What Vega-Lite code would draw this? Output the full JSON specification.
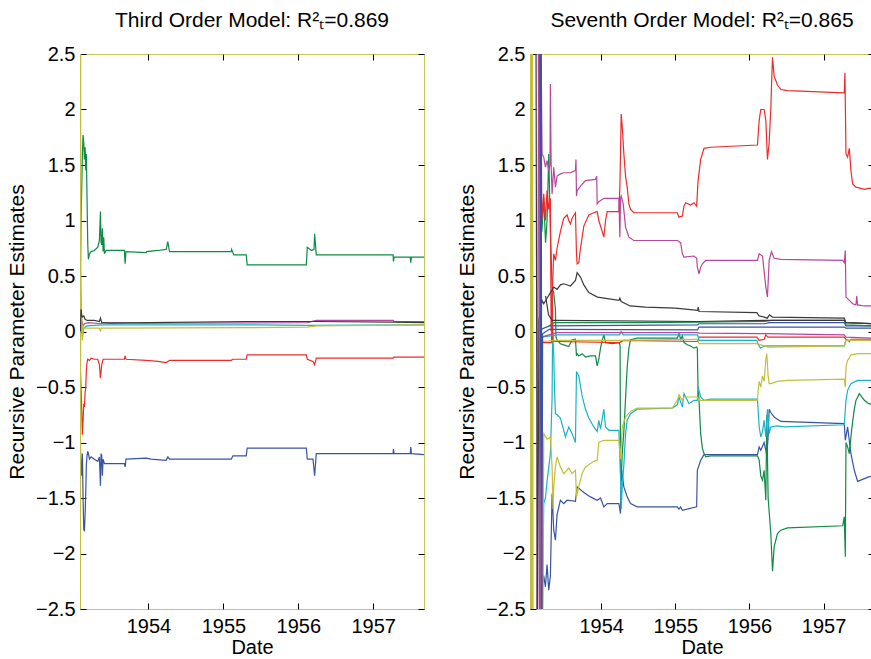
{
  "$schema": "https://vega.github.io/schema/vega-lite/v6.json",
  "padding": {"left": 6, "top": 9, "right": 0, "bottom": 4},
  "background": "white",
  "config": {
    "view": {"stroke": "#c9c65a", "strokeWidth": 1},
    "font": "Liberation Sans",
    "concat": {"spacing": 31},
    "axis": {"labelFont": "Liberation Sans", "labelFontSize": 20, "titleFont": "Liberation Sans", "titleFontSize": 20, "titleFontWeight": "normal", "labelColor": "#000", "titleColor": "#000", "tickColor": "#000", "tickWidth": 1, "domain": false, "grid": false, "tickSize": 6, "offset": -6, "labelPadding": 5, "titlePadding": 1},
    "axisX": {"labelPadding": 7},
    "title": {"font": "Liberation Sans", "fontSize": 21, "fontWeight": "normal", "color": "#000", "offset": 13}
  },
  "datasets": {
    "third": [
      {"s":"a1","t":1953.091,"v":-1.05},{"s":"a1","t":1953.1,"v":-1.2},{"s":"a1","t":1953.109,"v":-1.3},{"s":"a1","t":1953.118,"v":-1.1},{"s":"a1","t":1953.127,"v":-1.5},{"s":"a1","t":1953.136,"v":-1.78},{"s":"a1","t":1953.145,"v":-1.8},{"s":"a1","t":1953.154,"v":-1.65},{"s":"a1","t":1953.163,"v":-1.45},{"s":"a1","t":1953.171,"v":-1.2},{"s":"a1","t":1953.18,"v":-1.12},{"s":"a1","t":1953.189,"v":-1.08},{"s":"a1","t":1953.198,"v":-1.1},{"s":"a1","t":1953.212,"v":-1.15},{"s":"a1","t":1953.234,"v":-1.13},{"s":"a1","t":1953.278,"v":-1.15},{"s":"a1","t":1953.323,"v":-1.17},{"s":"a1","t":1953.345,"v":-1.13},{"s":"a1","t":1953.359,"v":-1.39},{"s":"a1","t":1953.367,"v":-1.1},{"s":"a1","t":1953.376,"v":-1.12},{"s":"a1","t":1953.385,"v":-1.3},{"s":"a1","t":1953.394,"v":-1.15},{"s":"a1","t":1953.412,"v":-1.19},{"s":"a1","t":1953.679,"v":-1.19},{"s":"a1","t":1953.688,"v":-1.22},{"s":"a1","t":1953.7,"v":-1.15},{"s":"a1","t":1953.969,"v":-1.14},{"s":"a1","t":1954.036,"v":-1.15},{"s":"a1","t":1954.236,"v":-1.16},{"s":"a1","t":1954.258,"v":-1.13},{"s":"a1","t":1954.281,"v":-1.15},{"s":"a1","t":1955.105,"v":-1.15},{"s":"a1","t":1955.127,"v":-1.12},{"s":"a1","t":1955.305,"v":-1.12},{"s":"a1","t":1955.318,"v":-1.05},{"s":"a1","t":1956.107,"v":-1.05},{"s":"a1","t":1956.12,"v":-1.15},{"s":"a1","t":1956.196,"v":-1.15},{"s":"a1","t":1956.218,"v":-1.3},{"s":"a1","t":1956.24,"v":-1.1},{"s":"a1","t":1957.265,"v":-1.1},{"s":"a1","t":1957.27,"v":-1.06},{"s":"a1","t":1957.278,"v":-1.1},{"s":"a1","t":1957.495,"v":-1.1},{"s":"a1","t":1957.501,"v":-1.04},{"s":"a1","t":1957.51,"v":-1.1},{"s":"a1","t":1957.678,"v":-1.11},
      {"s":"a2","t":1953.087,"v":0.3},{"s":"a2","t":1953.1,"v":1.0},{"s":"a2","t":1953.118,"v":1.6},{"s":"a2","t":1953.127,"v":1.77},{"s":"a2","t":1953.136,"v":1.7},{"s":"a2","t":1953.145,"v":1.55},{"s":"a2","t":1953.154,"v":1.66},{"s":"a2","t":1953.163,"v":1.45},{"s":"a2","t":1953.171,"v":1.6},{"s":"a2","t":1953.18,"v":1.2},{"s":"a2","t":1953.189,"v":0.8},{"s":"a2","t":1953.198,"v":0.65},{"s":"a2","t":1953.212,"v":0.7},{"s":"a2","t":1953.234,"v":0.72},{"s":"a2","t":1953.278,"v":0.73},{"s":"a2","t":1953.323,"v":0.76},{"s":"a2","t":1953.345,"v":0.82},{"s":"a2","t":1953.359,"v":1.08},{"s":"a2","t":1953.367,"v":0.8},{"s":"a2","t":1953.376,"v":0.78},{"s":"a2","t":1953.385,"v":0.93},{"s":"a2","t":1953.394,"v":0.72},{"s":"a2","t":1953.403,"v":0.85},{"s":"a2","t":1953.412,"v":0.7},{"s":"a2","t":1953.434,"v":0.73},{"s":"a2","t":1953.679,"v":0.73},{"s":"a2","t":1953.688,"v":0.61},{"s":"a2","t":1953.7,"v":0.72},{"s":"a2","t":1953.969,"v":0.71},{"s":"a2","t":1953.975,"v":0.72},{"s":"a2","t":1954.125,"v":0.73},{"s":"a2","t":1954.236,"v":0.74},{"s":"a2","t":1954.258,"v":0.81},{"s":"a2","t":1954.281,"v":0.72},{"s":"a2","t":1955.105,"v":0.72},{"s":"a2","t":1955.11,"v":0.74},{"s":"a2","t":1955.14,"v":0.69},{"s":"a2","t":1955.305,"v":0.69},{"s":"a2","t":1955.318,"v":0.6},{"s":"a2","t":1956.107,"v":0.6},{"s":"a2","t":1956.12,"v":0.76},{"s":"a2","t":1956.174,"v":0.73},{"s":"a2","t":1956.21,"v":0.74},{"s":"a2","t":1956.218,"v":0.88},{"s":"a2","t":1956.24,"v":0.69},{"s":"a2","t":1957.265,"v":0.69},{"s":"a2","t":1957.27,"v":0.63},{"s":"a2","t":1957.278,"v":0.67},{"s":"a2","t":1957.495,"v":0.67},{"s":"a2","t":1957.501,"v":0.62},{"s":"a2","t":1957.51,"v":0.67},{"s":"a2","t":1957.678,"v":0.67},
      {"s":"a3","t":1953.091,"v":-0.35},{"s":"a3","t":1953.1,"v":-0.5},{"s":"a3","t":1953.109,"v":-0.7},{"s":"a3","t":1953.118,"v":-0.93},{"s":"a3","t":1953.127,"v":-0.8},{"s":"a3","t":1953.136,"v":-0.65},{"s":"a3","t":1953.145,"v":-0.68},{"s":"a3","t":1953.154,"v":-0.55},{"s":"a3","t":1953.163,"v":-0.5},{"s":"a3","t":1953.171,"v":-0.35},{"s":"a3","t":1953.18,"v":-0.28},{"s":"a3","t":1953.189,"v":-0.25},{"s":"a3","t":1953.212,"v":-0.26},{"s":"a3","t":1953.234,"v":-0.24},{"s":"a3","t":1953.278,"v":-0.25},{"s":"a3","t":1953.323,"v":-0.25},{"s":"a3","t":1953.345,"v":-0.3},{"s":"a3","t":1953.359,"v":-0.42},{"s":"a3","t":1953.367,"v":-0.36},{"s":"a3","t":1953.376,"v":-0.3},{"s":"a3","t":1953.394,"v":-0.25},{"s":"a3","t":1953.434,"v":-0.25},{"s":"a3","t":1953.679,"v":-0.25},{"s":"a3","t":1953.688,"v":-0.22},{"s":"a3","t":1953.7,"v":-0.25},{"s":"a3","t":1953.969,"v":-0.26},{"s":"a3","t":1954.125,"v":-0.27},{"s":"a3","t":1954.236,"v":-0.28},{"s":"a3","t":1954.258,"v":-0.27},{"s":"a3","t":1954.281,"v":-0.26},{"s":"a3","t":1955.105,"v":-0.26},{"s":"a3","t":1955.127,"v":-0.25},{"s":"a3","t":1955.305,"v":-0.25},{"s":"a3","t":1955.318,"v":-0.21},{"s":"a3","t":1956.107,"v":-0.21},{"s":"a3","t":1956.12,"v":-0.25},{"s":"a3","t":1956.196,"v":-0.27},{"s":"a3","t":1956.218,"v":-0.3},{"s":"a3","t":1956.24,"v":-0.24},{"s":"a3","t":1957.265,"v":-0.24},{"s":"a3","t":1957.278,"v":-0.23},{"s":"a3","t":1957.678,"v":-0.23},
      {"s":"a4","t":1953.091,"v":0.6},{"s":"a4","t":1953.1,"v":0.3},{"s":"a4","t":1953.109,"v":0.0},{"s":"a4","t":1953.118,"v":-0.05},{"s":"a4","t":1953.136,"v":0.03},{"s":"a4","t":1953.18,"v":0.05},{"s":"a4","t":1953.4,"v":0.06},{"s":"a4","t":1955.318,"v":0.06},{"s":"a4","t":1956.12,"v":0.055},{"s":"a4","t":1957.678,"v":0.06},
      {"s":"a5","t":1953.091,"v":0.2},{"s":"a5","t":1953.109,"v":0.1},{"s":"a5","t":1953.127,"v":0.05},{"s":"a5","t":1953.145,"v":0.07},{"s":"a5","t":1953.198,"v":0.08},{"s":"a5","t":1953.359,"v":0.07},{"s":"a5","t":1953.4,"v":0.08},{"s":"a5","t":1954.0,"v":0.075},{"s":"a5","t":1956.12,"v":0.08},{"s":"a5","t":1956.24,"v":0.1},{"s":"a5","t":1957.265,"v":0.1},{"s":"a5","t":1957.278,"v":0.09},{"s":"a5","t":1957.678,"v":0.09},
      {"s":"a6","t":1953.087,"v":2.8},{"s":"a6","t":1953.089,"v":-2.8},{"s":"a6","t":1953.091,"v":2.8},{"s":"a6","t":1953.093,"v":-2.8},{"s":"a6","t":1953.095,"v":2.8},{"s":"a6","t":1953.097,"v":0.28},{"s":"a6","t":1953.1,"v":0.25},{"s":"a6","t":1953.109,"v":0.1},{"s":"a6","t":1953.118,"v":-0.08},{"s":"a6","t":1953.127,"v":0.05},{"s":"a6","t":1953.154,"v":0.03},{"s":"a6","t":1953.345,"v":0.03},{"s":"a6","t":1953.359,"v":0.0},{"s":"a6","t":1953.367,"v":0.03},{"s":"a6","t":1953.4,"v":0.03},{"s":"a6","t":1955.318,"v":0.035},{"s":"a6","t":1956.12,"v":0.04},{"s":"a6","t":1956.24,"v":0.05},{"s":"a6","t":1957.678,"v":0.06},
      {"s":"a7","t":1953.091,"v":0.0},{"s":"a7","t":1953.1,"v":0.2},{"s":"a7","t":1953.109,"v":0.15},{"s":"a7","t":1953.118,"v":0.13},{"s":"a7","t":1953.136,"v":0.14},{"s":"a7","t":1953.154,"v":0.11},{"s":"a7","t":1953.18,"v":0.1},{"s":"a7","t":1953.278,"v":0.1},{"s":"a7","t":1953.345,"v":0.09},{"s":"a7","t":1953.359,"v":0.12},{"s":"a7","t":1953.376,"v":0.08},{"s":"a7","t":1953.5,"v":0.075},{"s":"a7","t":1954.0,"v":0.08},{"s":"a7","t":1955.318,"v":0.09},{"s":"a7","t":1956.12,"v":0.09},{"s":"a7","t":1956.24,"v":0.09},{"s":"a7","t":1957.265,"v":0.085},{"s":"a7","t":1957.678,"v":0.08}
    ],
    "seventh": [
      {"s":"p1","t":1953.17,"v":3},{"s":"p1","t":1953.19,"v":-3},{"s":"p1","t":1953.2,"v":-2.3},{"s":"p1","t":1953.225,"v":-2.2},{"s":"p1","t":1953.248,"v":-2.3},{"s":"p1","t":1953.27,"v":-2.1},{"s":"p1","t":1953.293,"v":-2.33},{"s":"p1","t":1953.315,"v":-2.2},{"s":"p1","t":1953.338,"v":-1.46},{"s":"p1","t":1953.36,"v":-1.79},{"s":"p1","t":1953.383,"v":-1.88},{"s":"p1","t":1953.405,"v":-1.65},{"s":"p1","t":1953.45,"v":-1.52},{"s":"p1","t":1953.495,"v":-1.55},{"s":"p1","t":1953.541,"v":-1.52},{"s":"p1","t":1953.653,"v":-1.53},{"s":"p1","t":1953.676,"v":-1.4},{"s":"p1","t":1953.766,"v":-1.45},{"s":"p1","t":1953.856,"v":-1.49},{"s":"p1","t":1953.946,"v":-1.52},{"s":"p1","t":1953.991,"v":-1.5},{"s":"p1","t":1954.036,"v":-1.58},{"s":"p1","t":1954.081,"v":-1.55},{"s":"p1","t":1954.239,"v":-1.55},{"s":"p1","t":1954.261,"v":-1.64},{"s":"p1","t":1954.27,"v":-1.22},{"s":"p1","t":1954.306,"v":-1.4},{"s":"p1","t":1954.351,"v":-1.49},{"s":"p1","t":1954.396,"v":-1.55},{"s":"p1","t":1954.486,"v":-1.58},{"s":"p1","t":1955.027,"v":-1.58},{"s":"p1","t":1955.05,"v":-1.6},{"s":"p1","t":1955.072,"v":-1.58},{"s":"p1","t":1955.095,"v":-1.61},{"s":"p1","t":1955.288,"v":-1.58},{"s":"p1","t":1955.297,"v":-1.25},{"s":"p1","t":1955.342,"v":-1.16},{"s":"p1","t":1955.387,"v":-1.11},{"s":"p1","t":1956.108,"v":-1.11},{"s":"p1","t":1956.131,"v":-1.04},{"s":"p1","t":1956.153,"v":-1.07},{"s":"p1","t":1956.198,"v":-1.0},{"s":"p1","t":1956.221,"v":-1.07},{"s":"p1","t":1956.234,"v":-1.12},{"s":"p1","t":1956.252,"v":-0.95},{"s":"p1","t":1956.266,"v":-0.7},{"s":"p1","t":1956.288,"v":-0.73},{"s":"p1","t":1956.333,"v":-0.77},{"s":"p1","t":1956.423,"v":-0.81},{"s":"p1","t":1957.279,"v":-0.83},{"s":"p1","t":1957.293,"v":-0.98},{"s":"p1","t":1957.324,"v":-0.86},{"s":"p1","t":1957.369,"v":-1.1},{"s":"p1","t":1957.414,"v":-1.25},{"s":"p1","t":1957.459,"v":-1.35},{"s":"p1","t":1957.608,"v":-1.31},{"s":"p1","t":1957.68,"v":-1.3},
      {"s":"p2","t":1953.16,"v":3},{"s":"p2","t":1953.18,"v":1.3},{"s":"p2","t":1953.2,"v":0.9},{"s":"p2","t":1953.225,"v":1.2},{"s":"p2","t":1953.25,"v":0.8},{"s":"p2","t":1953.27,"v":1.0},{"s":"p2","t":1953.293,"v":1.6},{"s":"p2","t":1953.315,"v":0.9},{"s":"p2","t":1953.338,"v":0.4},{"s":"p2","t":1953.36,"v":0.35},{"s":"p2","t":1953.383,"v":0.2},{"s":"p2","t":1953.39,"v":-0.05},{"s":"p2","t":1953.405,"v":-0.075},{"s":"p2","t":1953.45,"v":-0.11},{"s":"p2","t":1953.495,"v":-0.12},{"s":"p2","t":1953.563,"v":-0.135},{"s":"p2","t":1953.608,"v":-0.075},{"s":"p2","t":1953.653,"v":-0.07},{"s":"p2","t":1953.667,"v":-0.22},{"s":"p2","t":1953.676,"v":-0.2},{"s":"p2","t":1953.698,"v":-0.22},{"s":"p2","t":1953.743,"v":-0.2},{"s":"p2","t":1953.788,"v":-0.23},{"s":"p2","t":1953.856,"v":-0.22},{"s":"p2","t":1953.923,"v":-0.22},{"s":"p2","t":1953.946,"v":-0.31},{"s":"p2","t":1953.968,"v":-0.25},{"s":"p2","t":1953.991,"v":-0.15},{"s":"p2","t":1954.014,"v":-0.08},{"s":"p2","t":1954.036,"v":-0.03},{"s":"p2","t":1954.059,"v":-0.1},{"s":"p2","t":1954.149,"v":-0.11},{"s":"p2","t":1954.239,"v":-0.1},{"s":"p2","t":1954.255,"v":-0.12},{"s":"p2","t":1954.261,"v":-1.28},{"s":"p2","t":1954.27,"v":-1.35},{"s":"p2","t":1954.284,"v":-1.1},{"s":"p2","t":1954.306,"v":-0.9},{"s":"p2","t":1954.329,"v":-0.6},{"s":"p2","t":1954.351,"v":-0.32},{"s":"p2","t":1954.374,"v":-0.15},{"s":"p2","t":1954.396,"v":-0.075},{"s":"p2","t":1954.486,"v":-0.06},{"s":"p2","t":1955.027,"v":-0.06},{"s":"p2","t":1955.05,"v":-0.02},{"s":"p2","t":1955.072,"v":-0.07},{"s":"p2","t":1955.095,"v":-0.04},{"s":"p2","t":1955.117,"v":-0.1},{"s":"p2","t":1955.162,"v":-0.12},{"s":"p2","t":1955.207,"v":-0.13},{"s":"p2","t":1955.252,"v":-0.15},{"s":"p2","t":1955.288,"v":-0.14},{"s":"p2","t":1955.297,"v":-0.15},{"s":"p2","t":1955.306,"v":-0.5},{"s":"p2","t":1955.32,"v":-0.62},{"s":"p2","t":1955.342,"v":-0.92},{"s":"p2","t":1955.365,"v":-1.05},{"s":"p2","t":1955.387,"v":-1.1},{"s":"p2","t":1955.41,"v":-1.13},{"s":"p2","t":1955.477,"v":-1.12},{"s":"p2","t":1956.108,"v":-1.12},{"s":"p2","t":1956.131,"v":-1.16},{"s":"p2","t":1956.153,"v":-1.3},{"s":"p2","t":1956.176,"v":-1.34},{"s":"p2","t":1956.198,"v":-1.25},{"s":"p2","t":1956.221,"v":-1.52},{"s":"p2","t":1956.234,"v":-0.75},{"s":"p2","t":1956.252,"v":-1.5},{"s":"p2","t":1956.288,"v":-1.82},{"s":"p2","t":1956.311,"v":-2.16},{"s":"p2","t":1956.333,"v":-1.94},{"s":"p2","t":1956.378,"v":-1.82},{"s":"p2","t":1956.423,"v":-1.79},{"s":"p2","t":1956.514,"v":-1.77},{"s":"p2","t":1957.257,"v":-1.75},{"s":"p2","t":1957.279,"v":-1.67},{"s":"p2","t":1957.293,"v":-2.03},{"s":"p2","t":1957.302,"v":-1.0},{"s":"p2","t":1957.324,"v":-1.04},{"s":"p2","t":1957.347,"v":-1.1},{"s":"p2","t":1957.369,"v":-0.95},{"s":"p2","t":1957.383,"v":-0.86},{"s":"p2","t":1957.414,"v":-0.7},{"s":"p2","t":1957.437,"v":-0.62},{"s":"p2","t":1957.482,"v":-0.56},{"s":"p2","t":1957.55,"v":-0.62},{"s":"p2","t":1957.608,"v":-0.65},{"s":"p2","t":1957.68,"v":-0.66},
      {"s":"p3","t":1953.18,"v":3},{"s":"p3","t":1953.2,"v":1.0},{"s":"p3","t":1953.225,"v":1.24},{"s":"p3","t":1953.248,"v":1.0},{"s":"p3","t":1953.27,"v":1.27},{"s":"p3","t":1953.293,"v":1.1},{"s":"p3","t":1953.315,"v":1.2},{"s":"p3","t":1953.325,"v":0.0},{"s":"p3","t":1953.338,"v":0.3},{"s":"p3","t":1953.36,"v":0.7},{"s":"p3","t":1953.383,"v":0.64},{"s":"p3","t":1953.405,"v":0.75},{"s":"p3","t":1953.45,"v":0.9},{"s":"p3","t":1953.495,"v":1.02},{"s":"p3","t":1953.541,"v":1.05},{"s":"p3","t":1953.563,"v":1.0},{"s":"p3","t":1953.586,"v":0.97},{"s":"p3","t":1953.608,"v":1.02},{"s":"p3","t":1953.653,"v":1.07},{"s":"p3","t":1953.667,"v":0.7},{"s":"p3","t":1953.676,"v":0.61},{"s":"p3","t":1953.698,"v":0.62},{"s":"p3","t":1953.721,"v":0.75},{"s":"p3","t":1953.766,"v":0.95},{"s":"p3","t":1953.833,"v":1.05},{"s":"p3","t":1953.901,"v":1.07},{"s":"p3","t":1953.946,"v":1.08},{"s":"p3","t":1953.968,"v":1.0},{"s":"p3","t":1954.014,"v":0.9},{"s":"p3","t":1954.036,"v":0.85},{"s":"p3","t":1954.059,"v":1.0},{"s":"p3","t":1954.081,"v":1.08},{"s":"p3","t":1954.239,"v":1.08},{"s":"p3","t":1954.252,"v":1.3},{"s":"p3","t":1954.261,"v":1.6},{"s":"p3","t":1954.27,"v":1.96},{"s":"p3","t":1954.284,"v":1.85},{"s":"p3","t":1954.306,"v":1.6},{"s":"p3","t":1954.329,"v":1.4},{"s":"p3","t":1954.351,"v":1.3},{"s":"p3","t":1954.374,"v":1.15},{"s":"p3","t":1954.396,"v":1.1},{"s":"p3","t":1954.441,"v":1.07},{"s":"p3","t":1955.027,"v":1.07},{"s":"p3","t":1955.05,"v":1.03},{"s":"p3","t":1955.095,"v":1.04},{"s":"p3","t":1955.117,"v":1.13},{"s":"p3","t":1955.14,"v":1.16},{"s":"p3","t":1955.207,"v":1.14},{"s":"p3","t":1955.252,"v":1.16},{"s":"p3","t":1955.288,"v":1.13},{"s":"p3","t":1955.306,"v":1.35},{"s":"p3","t":1955.342,"v":1.55},{"s":"p3","t":1955.387,"v":1.65},{"s":"p3","t":1955.477,"v":1.66},{"s":"p3","t":1956.108,"v":1.68},{"s":"p3","t":1956.131,"v":1.9},{"s":"p3","t":1956.153,"v":2.0},{"s":"p3","t":1956.198,"v":2.0},{"s":"p3","t":1956.221,"v":1.9},{"s":"p3","t":1956.243,"v":1.55},{"s":"p3","t":1956.266,"v":1.7},{"s":"p3","t":1956.288,"v":2.0},{"s":"p3","t":1956.297,"v":2.2},{"s":"p3","t":1956.311,"v":2.47},{"s":"p3","t":1956.333,"v":2.3},{"s":"p3","t":1956.378,"v":2.22},{"s":"p3","t":1956.423,"v":2.18},{"s":"p3","t":1956.514,"v":2.17},{"s":"p3","t":1957.279,"v":2.15},{"s":"p3","t":1957.288,"v":2.33},{"s":"p3","t":1957.302,"v":1.6},{"s":"p3","t":1957.324,"v":1.57},{"s":"p3","t":1957.347,"v":1.65},{"s":"p3","t":1957.369,"v":1.45},{"s":"p3","t":1957.392,"v":1.33},{"s":"p3","t":1957.437,"v":1.3},{"s":"p3","t":1957.55,"v":1.28},{"s":"p3","t":1957.608,"v":1.29},{"s":"p3","t":1957.68,"v":1.29},
      {"s":"p4","t":1953.2,"v":-3},{"s":"p4","t":1953.225,"v":-1.55},{"s":"p4","t":1953.248,"v":-1.5},{"s":"p4","t":1953.27,"v":-1.35},{"s":"p4","t":1953.315,"v":-1.1},{"s":"p4","t":1953.338,"v":-0.6},{"s":"p4","t":1953.345,"v":0.0},{"s":"p4","t":1953.36,"v":-0.2},{"s":"p4","t":1953.37,"v":-0.5},{"s":"p4","t":1953.383,"v":-0.74},{"s":"p4","t":1953.405,"v":-0.75},{"s":"p4","t":1953.45,"v":-0.78},{"s":"p4","t":1953.495,"v":-0.89},{"s":"p4","t":1953.518,"v":-0.95},{"s":"p4","t":1953.563,"v":-0.86},{"s":"p4","t":1953.608,"v":-0.92},{"s":"p4","t":1953.653,"v":-1.0},{"s":"p4","t":1953.667,"v":-0.36},{"s":"p4","t":1953.698,"v":-0.4},{"s":"p4","t":1953.743,"v":-0.58},{"s":"p4","t":1953.788,"v":-0.7},{"s":"p4","t":1953.833,"v":-0.78},{"s":"p4","t":1953.901,"v":-0.86},{"s":"p4","t":1953.946,"v":-0.9},{"s":"p4","t":1953.968,"v":-0.8},{"s":"p4","t":1953.991,"v":-0.88},{"s":"p4","t":1954.036,"v":-0.7},{"s":"p4","t":1954.059,"v":-0.86},{"s":"p4","t":1954.104,"v":-0.89},{"s":"p4","t":1954.239,"v":-0.89},{"s":"p4","t":1954.261,"v":-1.3},{"s":"p4","t":1954.27,"v":-1.6},{"s":"p4","t":1954.284,"v":-1.4},{"s":"p4","t":1954.306,"v":-1.2},{"s":"p4","t":1954.329,"v":-0.92},{"s":"p4","t":1954.351,"v":-0.8},{"s":"p4","t":1954.396,"v":-0.74},{"s":"p4","t":1954.486,"v":-0.7},{"s":"p4","t":1954.959,"v":-0.69},{"s":"p4","t":1955.027,"v":-0.66},{"s":"p4","t":1955.05,"v":-0.59},{"s":"p4","t":1955.095,"v":-0.68},{"s":"p4","t":1955.117,"v":-0.56},{"s":"p4","t":1955.185,"v":-0.65},{"s":"p4","t":1955.252,"v":-0.62},{"s":"p4","t":1955.297,"v":-0.62},{"s":"p4","t":1955.306,"v":-0.5},{"s":"p4","t":1955.342,"v":-0.59},{"s":"p4","t":1955.387,"v":-0.62},{"s":"p4","t":1955.477,"v":-0.61},{"s":"p4","t":1956.108,"v":-0.61},{"s":"p4","t":1956.131,"v":-0.86},{"s":"p4","t":1956.153,"v":-0.95},{"s":"p4","t":1956.176,"v":-0.9},{"s":"p4","t":1956.198,"v":-0.8},{"s":"p4","t":1956.221,"v":-0.95},{"s":"p4","t":1956.243,"v":-0.7},{"s":"p4","t":1956.266,"v":-0.92},{"s":"p4","t":1956.288,"v":-0.86},{"s":"p4","t":1956.378,"v":-0.85},{"s":"p4","t":1956.468,"v":-0.86},{"s":"p4","t":1957.279,"v":-0.84},{"s":"p4","t":1957.302,"v":-0.62},{"s":"p4","t":1957.324,"v":-0.53},{"s":"p4","t":1957.369,"v":-0.47},{"s":"p4","t":1957.459,"v":-0.44},{"s":"p4","t":1957.68,"v":-0.44},
      {"s":"p5","t":1953.13,"v":-3},{"s":"p5","t":1953.16,"v":3},{"s":"p5","t":1953.19,"v":2.5},{"s":"p5","t":1953.203,"v":1.6},{"s":"p5","t":1953.225,"v":1.57},{"s":"p5","t":1953.248,"v":1.48},{"s":"p5","t":1953.27,"v":1.54},{"s":"p5","t":1953.293,"v":1.45},{"s":"p5","t":1953.31,"v":1.5},{"s":"p5","t":1953.315,"v":2.23},{"s":"p5","t":1953.325,"v":1.5},{"s":"p5","t":1953.338,"v":1.24},{"s":"p5","t":1953.36,"v":1.48},{"s":"p5","t":1953.383,"v":1.3},{"s":"p5","t":1953.405,"v":1.4},{"s":"p5","t":1953.45,"v":1.42},{"s":"p5","t":1953.495,"v":1.43},{"s":"p5","t":1953.586,"v":1.43},{"s":"p5","t":1953.653,"v":1.45},{"s":"p5","t":1953.66,"v":1.55},{"s":"p5","t":1953.667,"v":1.22},{"s":"p5","t":1953.676,"v":1.27},{"s":"p5","t":1953.721,"v":1.31},{"s":"p5","t":1953.788,"v":1.36},{"s":"p5","t":1953.923,"v":1.37},{"s":"p5","t":1953.94,"v":1.4},{"s":"p5","t":1953.946,"v":1.15},{"s":"p5","t":1953.968,"v":1.17},{"s":"p5","t":1954.036,"v":1.2},{"s":"p5","t":1954.239,"v":1.2},{"s":"p5","t":1954.252,"v":0.85},{"s":"p5","t":1954.261,"v":1.2},{"s":"p5","t":1954.27,"v":1.22},{"s":"p5","t":1954.297,"v":1.15},{"s":"p5","t":1954.329,"v":0.94},{"s":"p5","t":1954.374,"v":0.85},{"s":"p5","t":1954.441,"v":0.82},{"s":"p5","t":1955.027,"v":0.82},{"s":"p5","t":1955.072,"v":0.8},{"s":"p5","t":1955.095,"v":0.7},{"s":"p5","t":1955.117,"v":0.67},{"s":"p5","t":1955.252,"v":0.68},{"s":"p5","t":1955.288,"v":0.66},{"s":"p5","t":1955.297,"v":0.58},{"s":"p5","t":1955.32,"v":0.52},{"s":"p5","t":1955.342,"v":0.58},{"s":"p5","t":1955.365,"v":0.61},{"s":"p5","t":1955.41,"v":0.64},{"s":"p5","t":1956.108,"v":0.64},{"s":"p5","t":1956.131,"v":0.7},{"s":"p5","t":1956.176,"v":0.68},{"s":"p5","t":1956.221,"v":0.4},{"s":"p5","t":1956.243,"v":0.31},{"s":"p5","t":1956.266,"v":0.64},{"s":"p5","t":1956.297,"v":0.72},{"s":"p5","t":1956.333,"v":0.66},{"s":"p5","t":1956.423,"v":0.65},{"s":"p5","t":1957.257,"v":0.64},{"s":"p5","t":1957.279,"v":0.62},{"s":"p5","t":1957.293,"v":0.73},{"s":"p5","t":1957.302,"v":0.31},{"s":"p5","t":1957.347,"v":0.28},{"s":"p5","t":1957.392,"v":0.25},{"s":"p5","t":1957.437,"v":0.24},{"s":"p5","t":1957.447,"v":0.32},{"s":"p5","t":1957.459,"v":0.24},{"s":"p5","t":1957.55,"v":0.23},{"s":"p5","t":1957.68,"v":0.23},
      {"s":"p6","t":1953.045,"v":3},{"s":"p6","t":1953.05,"v":-3},{"s":"p6","t":1953.058,"v":3},{"s":"p6","t":1953.066,"v":-3},{"s":"p6","t":1953.074,"v":3},{"s":"p6","t":1953.082,"v":-3},{"s":"p6","t":1953.21,"v":-3},{"s":"p6","t":1953.225,"v":-0.92},{"s":"p6","t":1953.27,"v":-0.97},{"s":"p6","t":1953.315,"v":-0.95},{"s":"p6","t":1953.338,"v":-1.22},{"s":"p6","t":1953.351,"v":-1.6},{"s":"p6","t":1953.36,"v":-1.4},{"s":"p6","t":1953.383,"v":-1.22},{"s":"p6","t":1953.405,"v":-1.13},{"s":"p6","t":1953.45,"v":-1.22},{"s":"p6","t":1953.495,"v":-1.28},{"s":"p6","t":1953.563,"v":-1.23},{"s":"p6","t":1953.608,"v":-1.28},{"s":"p6","t":1953.653,"v":-1.25},{"s":"p6","t":1953.667,"v":-1.49},{"s":"p6","t":1953.698,"v":-1.4},{"s":"p6","t":1953.743,"v":-1.28},{"s":"p6","t":1953.788,"v":-1.22},{"s":"p6","t":1953.901,"v":-1.17},{"s":"p6","t":1953.946,"v":-1.16},{"s":"p6","t":1953.968,"v":-1.0},{"s":"p6","t":1954.036,"v":-0.98},{"s":"p6","t":1954.239,"v":-0.98},{"s":"p6","t":1954.261,"v":-1.15},{"s":"p6","t":1954.284,"v":-0.86},{"s":"p6","t":1954.329,"v":-0.77},{"s":"p6","t":1954.396,"v":-0.72},{"s":"p6","t":1954.486,"v":-0.69},{"s":"p6","t":1954.959,"v":-0.69},{"s":"p6","t":1955.027,"v":-0.62},{"s":"p6","t":1955.05,"v":-0.57},{"s":"p6","t":1955.095,"v":-0.62},{"s":"p6","t":1955.117,"v":-0.59},{"s":"p6","t":1955.297,"v":-0.59},{"s":"p6","t":1955.32,"v":-0.62},{"s":"p6","t":1955.387,"v":-0.62},{"s":"p6","t":1956.108,"v":-0.62},{"s":"p6","t":1956.117,"v":-0.53},{"s":"p6","t":1956.131,"v":-0.45},{"s":"p6","t":1956.153,"v":-0.5},{"s":"p6","t":1956.176,"v":-0.4},{"s":"p6","t":1956.198,"v":-0.45},{"s":"p6","t":1956.221,"v":-0.25},{"s":"p6","t":1956.234,"v":-0.2},{"s":"p6","t":1956.252,"v":-0.4},{"s":"p6","t":1956.266,"v":-0.47},{"s":"p6","t":1956.288,"v":-0.47},{"s":"p6","t":1956.378,"v":-0.45},{"s":"p6","t":1956.514,"v":-0.44},{"s":"p6","t":1957.279,"v":-0.43},{"s":"p6","t":1957.293,"v":-0.5},{"s":"p6","t":1957.302,"v":-0.32},{"s":"p6","t":1957.324,"v":-0.26},{"s":"p6","t":1957.369,"v":-0.21},{"s":"p6","t":1957.459,"v":-0.2},{"s":"p6","t":1957.68,"v":-0.2},
      {"s":"p7","t":1953.12,"v":3},{"s":"p7","t":1953.14,"v":-3},{"s":"p7","t":1953.16,"v":0.1},{"s":"p7","t":1953.203,"v":0.28},{"s":"p7","t":1953.225,"v":0.25},{"s":"p7","t":1953.27,"v":0.3},{"s":"p7","t":1953.315,"v":0.35},{"s":"p7","t":1953.36,"v":0.4},{"s":"p7","t":1953.405,"v":0.38},{"s":"p7","t":1953.45,"v":0.42},{"s":"p7","t":1953.495,"v":0.43},{"s":"p7","t":1953.586,"v":0.41},{"s":"p7","t":1953.653,"v":0.46},{"s":"p7","t":1953.676,"v":0.53},{"s":"p7","t":1953.721,"v":0.49},{"s":"p7","t":1953.766,"v":0.42},{"s":"p7","t":1953.833,"v":0.35},{"s":"p7","t":1953.95,"v":0.31},{"s":"p7","t":1954.24,"v":0.28},{"s":"p7","t":1954.252,"v":0.3},{"s":"p7","t":1954.27,"v":0.27},{"s":"p7","t":1954.39,"v":0.23},{"s":"p7","t":1954.6,"v":0.22},{"s":"p7","t":1955.0,"v":0.21},{"s":"p7","t":1955.3,"v":0.19},{"s":"p7","t":1955.31,"v":0.22},{"s":"p7","t":1955.32,"v":0.18},{"s":"p7","t":1956.1,"v":0.17},{"s":"p7","t":1956.13,"v":0.14},{"s":"p7","t":1956.2,"v":0.13},{"s":"p7","t":1956.24,"v":0.12},{"s":"p7","t":1956.27,"v":0.15},{"s":"p7","t":1956.31,"v":0.13},{"s":"p7","t":1957.28,"v":0.12},{"s":"p7","t":1957.3,"v":0.08},{"s":"p7","t":1957.68,"v":0.07},
      {"s":"p8","t":1953.17,"v":-3},{"s":"p8","t":1953.18,"v":3},{"s":"p8","t":1953.19,"v":0.02},{"s":"p8","t":1953.3,"v":0.05},{"s":"p8","t":1955.3,"v":0.06},{"s":"p8","t":1955.32,"v":0.07},{"s":"p8","t":1956.2,"v":0.07},{"s":"p8","t":1956.27,"v":0.08},{"s":"p8","t":1957.28,"v":0.08},{"s":"p8","t":1957.3,"v":0.05},{"s":"p8","t":1957.68,"v":0.05},
      {"s":"p9","t":1953.3,"v":0.05},{"s":"p9","t":1953.36,"v":0.08},{"s":"p9","t":1954.5,"v":0.08},{"s":"p9","t":1955.3,"v":0.085},{"s":"p9","t":1956.2,"v":0.09},{"s":"p9","t":1956.3,"v":0.1},{"s":"p9","t":1957.28,"v":0.1},{"s":"p9","t":1957.3,"v":0.06},{"s":"p9","t":1957.68,"v":0.05},
      {"s":"p10","t":1953.2,"v":-0.1},{"s":"p10","t":1953.33,"v":-0.1},{"s":"p10","t":1953.34,"v":0.35},{"s":"p10","t":1953.35,"v":-0.09},{"s":"p10","t":1953.4,"v":-0.09},{"s":"p10","t":1954.25,"v":-0.1},{"s":"p10","t":1954.3,"v":-0.08},{"s":"p10","t":1955.3,"v":-0.09},{"s":"p10","t":1955.32,"v":-0.05},{"s":"p10","t":1956.1,"v":-0.05},{"s":"p10","t":1956.13,"v":-0.08},{"s":"p10","t":1956.2,"v":-0.07},{"s":"p10","t":1956.22,"v":-0.03},{"s":"p10","t":1956.25,"v":-0.05},{"s":"p10","t":1957.28,"v":-0.05},{"s":"p10","t":1957.3,"v":-0.07},{"s":"p10","t":1957.35,"v":-0.09},{"s":"p10","t":1957.37,"v":-0.07},{"s":"p10","t":1957.68,"v":-0.07},
      {"s":"p11","t":1953.2,"v":-0.05},{"s":"p11","t":1953.4,"v":-0.03},{"s":"p11","t":1954.25,"v":-0.03},{"s":"p11","t":1954.27,"v":0.0},{"s":"p11","t":1954.3,"v":-0.03},{"s":"p11","t":1955.3,"v":-0.03},{"s":"p11","t":1955.32,"v":-0.08},{"s":"p11","t":1956.1,"v":-0.08},{"s":"p11","t":1956.12,"v":-0.12},{"s":"p11","t":1956.15,"v":-0.15},{"s":"p11","t":1956.2,"v":-0.13},{"s":"p11","t":1957.28,"v":-0.13},{"s":"p11","t":1957.3,"v":-0.08},{"s":"p11","t":1957.68,"v":-0.07},
      {"s":"p12","t":1953.15,"v":3},{"s":"p12","t":1953.18,"v":-3},{"s":"p12","t":1953.2,"v":-0.05},{"s":"p12","t":1953.4,"v":-0.01},{"s":"p12","t":1955.3,"v":-0.01},{"s":"p12","t":1955.32,"v":-0.015},{"s":"p12","t":1956.2,"v":-0.02},{"s":"p12","t":1957.28,"v":-0.03},{"s":"p12","t":1957.3,"v":-0.05},{"s":"p12","t":1957.68,"v":-0.06},
      {"s":"p13","t":1953.2,"v":-0.09},{"s":"p13","t":1953.4,"v":-0.08},{"s":"p13","t":1954.25,"v":-0.08},{"s":"p13","t":1955.3,"v":-0.07},{"s":"p13","t":1955.32,"v":-0.11},{"s":"p13","t":1956.1,"v":-0.11},{"s":"p13","t":1956.2,"v":-0.13},{"s":"p13","t":1956.25,"v":-0.14},{"s":"p13","t":1957.28,"v":-0.13},{"s":"p13","t":1957.3,"v":-0.08},{"s":"p13","t":1957.68,"v":-0.08},
      {"s":"p14","t":1953.25,"v":0.32},{"s":"p14","t":1953.29,"v":0.15},{"s":"p14","t":1953.34,"v":0.1},{"s":"p14","t":1953.4,"v":0.1},{"s":"p14","t":1955.3,"v":0.09},{"s":"p14","t":1956.2,"v":0.1},{"s":"p14","t":1957.28,"v":0.1},{"s":"p14","t":1957.3,"v":0.08},{"s":"p14","t":1957.68,"v":0.07},
      {"s":"p15","t":1953.19,"v":3},{"s":"p15","t":1953.2,"v":-3},{"s":"p15","t":1953.21,"v":-0.02},{"s":"p15","t":1953.3,"v":0.02},{"s":"p15","t":1955.3,"v":0.015},{"s":"p15","t":1955.32,"v":0.04},{"s":"p15","t":1956.2,"v":0.04},{"s":"p15","t":1957.28,"v":0.04},{"s":"p15","t":1957.3,"v":0.03},{"s":"p15","t":1957.68,"v":0.03}
    ]
  },
  "hconcat": [
    {
      "width": 344, "height": 555,
      "title": "Third Order Model: R²ₜ=0.869",
      "data": {"name": "third"},
      "resolve": {"axis": {"x": "independent", "y": "independent"}},
      "layer": [
        {
          "mark": {"type": "line", "strokeWidth": 1.2, "clip": true},
          "encoding": {
            "x": {"field": "t", "type": "quantitative", "scale": {"domain": [1953.086, 1957.678], "nice": false, "zero": false}, "axis": {"orient": "bottom", "values": [1954, 1955, 1956, 1957], "format": "d", "title": "Date"}},
            "y": {"field": "v", "type": "quantitative", "scale": {"domain": [-2.5, 2.5], "nice": false}, "axis": {"orient": "left", "values": [-2.5, -2, -1.5, -1, -0.5, 0, 0.5, 1, 1.5, 2, 2.5], "format": "~g", "title": "Recursive Parameter Estimates", "titlePadding": 8, "titleFontSize": 21}},
            "color": {"field": "s", "type": "nominal", "legend": null, "scale": {"domain": ["a1","a2","a3","a4","a5","a6","a7"], "range": ["#3953a4","#0e8b45","#ee2b2c","#1ab3c4","#b5479e","#c2c03a","#3a3a3a"]}}
          }
        },
        {
          "mark": {"type": "line", "strokeOpacity": 0, "clip": true},
          "encoding": {
            "x": {"field": "t", "type": "quantitative", "axis": {"orient": "top", "values": [1954, 1955, 1956, 1957], "labels": false, "title": null}},
            "y": {"field": "v", "type": "quantitative", "axis": {"orient": "right", "values": [-2.5, -2, -1.5, -1, -0.5, 0, 0.5, 1, 1.5, 2, 2.5], "labels": false, "title": null}},
            "detail": {"field": "s"}
          }
        }
      ]
    },
    {
      "width": 344, "height": 555,
      "title": "Seventh Order Model: R²ₜ=0.865",
      "data": {"name": "seventh"},
      "resolve": {"axis": {"x": "independent", "y": "independent"}},
      "layer": [
        {
          "mark": {"type": "line", "strokeWidth": 1.2, "clip": true},
          "encoding": {
            "x": {"field": "t", "type": "quantitative", "scale": {"domain": [1953.04, 1957.68], "nice": false, "zero": false}, "axis": {"orient": "bottom", "values": [1954, 1955, 1956, 1957], "format": "d", "title": "Date"}},
            "y": {"field": "v", "type": "quantitative", "scale": {"domain": [-2.5, 2.5], "nice": false}, "axis": {"orient": "left", "values": [-2.5, -2, -1.5, -1, -0.5, 0, 0.5, 1, 1.5, 2, 2.5], "format": "~g", "title": "Recursive Parameter Estimates", "titlePadding": 8, "titleFontSize": 21}},
            "color": {"field": "s", "type": "nominal", "legend": null, "scale": {"domain": ["p1","p2","p3","p4","p5","p6","p7","p8","p9","p10","p11","p12","p13","p14","p15"], "range": ["#3953a4","#0e8b45","#ee2b2c","#1ab3c4","#b5479e","#c2c03a","#3a3a3a","#3953a4","#0e8b45","#ee2b2c","#1ab3c4","#b5479e","#c2c03a","#3a3a3a","#3953a4"]}}
          }
        },
        {
          "mark": {"type": "line", "strokeOpacity": 0, "clip": true},
          "encoding": {
            "x": {"field": "t", "type": "quantitative", "axis": {"orient": "top", "values": [1954, 1955, 1956, 1957], "labels": false, "title": null}},
            "y": {"field": "v", "type": "quantitative", "axis": {"orient": "right", "values": [-2.5, -2, -1.5, -1, -0.5, 0, 0.5, 1, 1.5, 2, 2.5], "labels": false, "title": null}},
            "detail": {"field": "s"}
          }
        }
      ]
    }
  ]
}
